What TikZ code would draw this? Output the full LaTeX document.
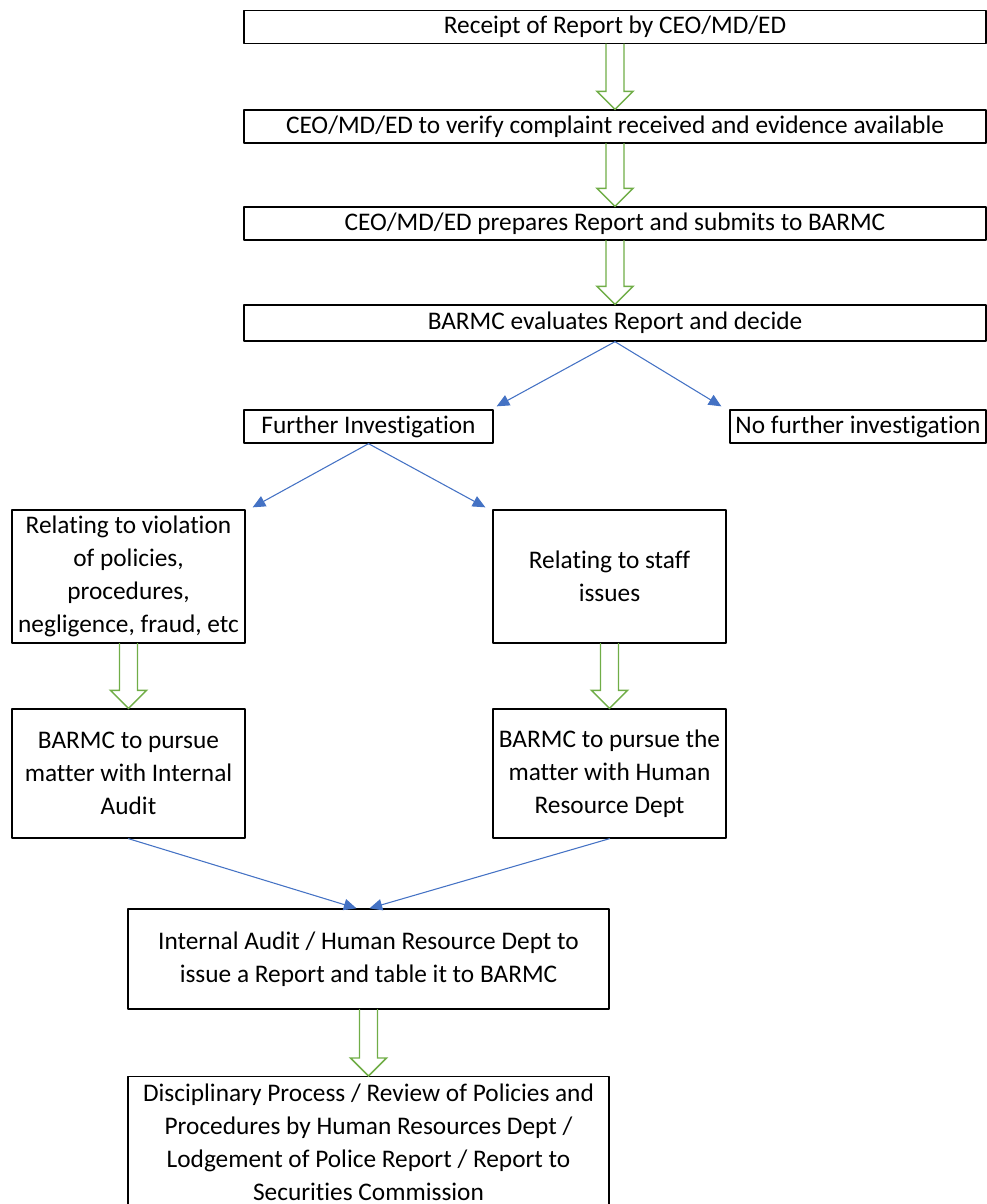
\documentclass[tikz,border=0pt]{standalone}
\usepackage{fontspec}
\setmainfont{Carlito}[Ligatures={NoCommon}]
\usepackage{tikz}
\usetikzlibrary{arrows.meta}
\usetikzlibrary{calc}
\usetikzlibrary{positioning}

\definecolor{linkblue}{HTML}{4472C4}
\definecolor{stepgreen}{HTML}{70AD47}

\tikzset{
  stage/.style={draw=black,line width=1pt,inner sep=0pt,align=center,
    font=\fontsize{19}{24.75}\selectfont},
  widebox/.style={stage,minimum width=556.5pt,minimum height=24.75pt},
  halfbox/.style={stage,minimum width=174.75pt},
  midbox/.style={stage,minimum width=360.75pt},
  link/.style={draw=linkblue,line width=0.8pt,-{Triangle[length=9.5pt,width=8.5pt]}},
  hollow/.style={draw=stepgreen,line width=1.1pt,line join=miter}
}

% hollow block arrow from the foot of #1 down to the top of #2
\newcommand{\flowarrow}[2]{%
  \coordinate (fa-s) at (#1.south);
  \coordinate (fa-t) at (#1.south |- #2.north);
  \draw[hollow] ($(fa-s)+(-9,0)$) -- ($(fa-t)+(-9,-18)$) -- ($(fa-t)+(-18,-18)$)
    -- (fa-t) -- ($(fa-t)+(18,-18)$) -- ($(fa-t)+(9,-18)$) -- ($(fa-s)+(9,0)$);
}

\begin{document}
\begin{tikzpicture}[line cap=round,line join=round,x=0.75pt,y=-0.75pt]
\useasboundingbox (0,0) rectangle (987,1204);
\clip(0,0) rectangle (987,1204);
% main chain
\node[widebox] (receipt) at (615,27) {Receipt of Report by CEO/MD/ED};
\node[widebox] (verify) at (615,126.5) {CEO/MD/ED to verify complaint received and evidence available};
\node[widebox] (prepare) at (615,223.5) {CEO/MD/ED prepares Report and submits to BARMC};
\node[widebox,minimum height=27pt] (evaluate) at (615,323) {BARMC evaluates Report and decide};
\node[stage,minimum width=186.75pt,minimum height=24.75pt] (further) at (368.5,426.5) {Further Investigation};
\node[stage,minimum width=192pt,minimum height=24.75pt] (nofurther) at (858,426.5) {No further investigation};
% two branches
\node[halfbox,minimum height=99.75pt] (policy) at (128.5,576.5) {Relating to violation\\of policies,\\procedures,\\negligence, fraud, etc};
\node[halfbox,minimum height=99.75pt] (staff) at (609.5,576.5) {Relating to staff\\issues};
\node[halfbox,minimum height=96.75pt] (audit) at (128.5,773.5) {BARMC to pursue\\matter with Internal\\Audit};
\node[halfbox,minimum height=96.75pt] (hrdept) at (609.5,773.5) {BARMC to pursue the\\matter with Human\\Resource Dept};
\node[midbox,minimum height=75pt] (report) at (368.5,959) {Internal Audit / Human Resource Dept to\\issue a Report and table it to BARMC};
\node[midbox,anchor=north,inner ysep=5.5pt] (action) at (368.5,1076) {Disciplinary Process / Review of Policies and\\Procedures by Human Resources Dept /\\Lodgement of Police Report / Report to\\Securities Commission};

\flowarrow{receipt}{verify}
\flowarrow{verify}{prepare}
\flowarrow{prepare}{evaluate}
\flowarrow{policy}{audit}
\flowarrow{staff}{hrdept}
\flowarrow{report}{action}

\draw[link] (evaluate.south) -- ([shift={(3,-3)}]further.north east);
\draw[link] (evaluate.south) -- ([shift={(-8,-3)}]nofurther.north west);
\draw[link] (further.south) -- ([shift={(7,-2)}]policy.north east);
\draw[link] (further.south) -- ([shift={(-7,-2)}]staff.north west);
\draw[link] (audit.south) -- ([shift={(-12,0)}]report.north);
\draw[link] (hrdept.south) -- ([shift={(1,0)}]report.north);
\end{tikzpicture}
\end{document}
